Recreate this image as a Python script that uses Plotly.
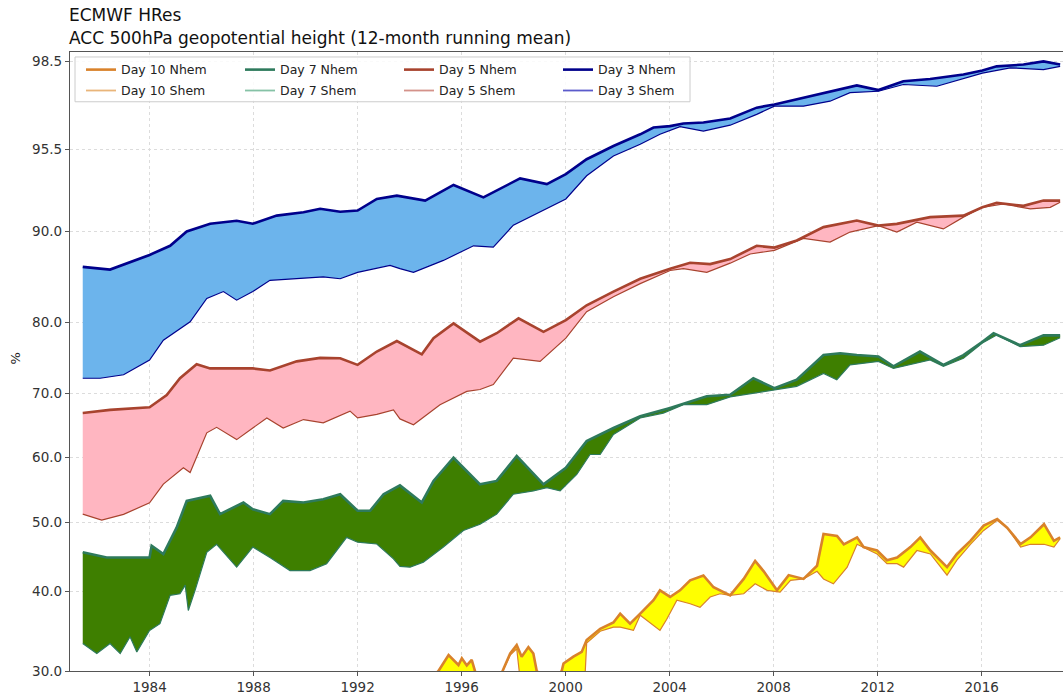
import numpy as np
import plotly.graph_objects as go

# ---------------- data ----------------
d3_nhem_year = [1981.43, 1982.48, 1984.0, 1984.79, 1985.43, 1986.33, 1987.35, 1987.97, 1988.89, 1989.92,
                1990.56, 1991.33, 1992.0, 1992.74, 1993.51, 1994.6, 1995.69, 1996.84, 1998.25, 1999.28,
                2000.01, 2000.81, 2001.84, 2002.87, 2003.38, 2004.02, 2004.53, 2005.3, 2006.33, 2007.35,
                2008.03, 2008.89, 2009.92, 2011.2, 2012.03, 2012.99, 2014.02, 2015.3, 2016.03, 2016.58,
                2017.61, 2018.38, 2019.02]
d3_nhem_val = [86.1, 85.8, 87.4, 88.4, 89.96, 90.5, 90.7, 90.5, 91.04, 91.27,
               91.5, 91.3, 91.38, 92.16, 92.38, 92.05, 93.1, 92.27, 93.54, 93.16,
               93.83, 94.83, 95.61, 96.01, 96.24, 96.29, 96.38, 96.41, 96.55, 96.92,
               97.03, 97.2, 97.43, 97.68, 97.52, 97.82, 97.9, 98.05, 98.19, 98.33,
               98.39, 98.5, 98.39]

d3_shem_year = [1981.43, 1982.1, 1983.0, 1984.0, 1984.53, 1985.17, 1985.56, 1986.2, 1986.84, 1987.35,
                1987.97, 1988.63, 1989.66, 1990.68, 1991.33, 1992.0, 1993.25, 1993.63, 1994.15, 1995.3,
                1996.46, 1997.22, 1997.99, 1999.02, 2000.01, 2000.81, 2001.84, 2002.87, 2003.63, 2004.4,
                2005.3, 2006.33, 2007.35, 2008.03, 2009.15, 2010.17, 2010.94, 2012.03, 2012.99, 2014.28,
                2015.3, 2016.03, 2017.1, 2018.38, 2019.02]
d3_shem_val = [72.1, 72.1, 72.6, 74.7, 77.5, 79.2, 80.1, 82.64, 83.4, 82.46,
               83.4, 84.63, 84.8, 85.0, 84.8, 85.5, 86.26, 85.9, 85.5, 86.8,
               88.4, 88.26, 90.4, 91.27, 92.16, 93.72, 95.05, 95.67, 96.01, 96.27,
               96.12, 96.32, 96.69, 96.97, 96.97, 97.14, 97.43, 97.48, 97.71, 97.65,
               97.9, 98.1, 98.28, 98.22, 98.33]

d5_nhem_year = [1981.43, 1982.48, 1984.0, 1984.66, 1985.17, 1985.81, 1986.33, 1987.35, 1987.97, 1988.63,
                1989.66, 1990.56, 1991.33, 1992.0, 1992.74, 1993.51, 1994.47, 1994.92, 1995.69, 1996.71,
                1997.35, 1998.19, 1999.15, 2000.01, 2000.81, 2001.84, 2002.87, 2004.02, 2004.79, 2005.56,
                2006.33, 2007.35, 2008.03, 2008.89, 2009.92, 2011.2, 2012.03, 2012.74, 2014.02, 2015.3,
                2016.03, 2016.58, 2017.61, 2018.38, 2019.02]
d5_nhem_val = [66.92, 67.4, 67.8, 69.7, 72.1, 74.1, 73.5, 73.5, 73.5, 73.2,
               74.5, 75.0, 74.95, 74.0, 75.9, 77.4, 75.5, 77.8, 79.9, 77.3,
               78.5, 80.47, 78.7, 80.28, 81.9, 83.4, 84.8, 85.9, 86.55, 86.4,
               86.95, 88.4, 88.2, 88.98, 90.27, 90.71, 90.37, 90.49, 90.94, 91.04,
               91.6, 91.9, 91.7, 92.05, 92.05]

d5_shem_year = [1981.43, 1982.16, 1983.0, 1984.0, 1984.53, 1985.3, 1985.56, 1986.2, 1986.58, 1987.35,
                1987.97, 1988.51, 1989.14, 1989.92, 1990.68, 1991.71, 1992.0, 1992.74, 1993.38, 1993.63,
                1994.15, 1995.17, 1996.2, 1996.71, 1997.22, 1997.99, 1999.02, 2000.01, 2000.81, 2001.84,
                2002.87, 2004.02, 2004.53, 2005.43, 2006.33, 2007.1, 2008.03, 2009.15, 2010.17, 2010.94,
                2012.03, 2012.74, 2013.51, 2014.53, 2015.3, 2016.03, 2016.84, 2017.87, 2018.64, 2019.02]
d5_shem_val = [51.24, 50.3, 51.2, 53.0, 55.9, 58.45, 57.7, 63.85, 64.7, 62.8,
               64.6, 66.15, 64.6, 65.9, 65.4, 67.2, 66.15, 66.7, 67.4, 66.0,
               65.1, 68.2, 70.24, 70.5, 71.2, 74.95, 74.5, 77.8, 81.2, 82.83,
               84.27, 85.7, 85.9, 85.5, 86.5, 87.5, 87.9, 89.2, 88.8, 89.9,
               90.37, 89.9, 90.6, 90.15, 90.94, 91.6, 91.82, 91.49, 91.6, 91.94]

d7_nhem_year = [1981.43, 1982.35, 1983.12, 1984.0, 1984.08, 1984.53, 1985.04, 1985.43, 1986.33, 1986.71,
                1987.61, 1987.97, 1988.63, 1989.14, 1989.92, 1990.68, 1991.33, 1992.0, 1992.48, 1993.0,
                1993.63, 1994.47, 1994.92, 1995.69, 1996.71, 1997.35, 1998.12, 1999.15, 2000.01, 2000.81,
                2001.84, 2002.87, 2004.02, 2004.79, 2005.43, 2006.33, 2007.22, 2008.03, 2008.89, 2009.92,
                2010.56, 2011.2, 2012.03, 2012.61, 2013.63, 2014.53, 2015.3, 2016.03, 2016.46, 2017.48,
                2018.38, 2019.02]
d7_nhem_val = [45.65, 44.9, 44.9, 44.9, 46.6, 45.4, 49.2, 53.3, 54.08, 51.24,
               53.05, 52.0, 51.24, 53.3, 53.05, 53.55, 54.33, 51.76, 51.76, 54.33,
               55.7, 53.05, 56.4, 60.0, 55.87, 56.4, 60.26, 55.87, 58.45, 62.57,
               64.6, 66.4, 67.7, 68.7, 69.5, 69.74, 72.1, 70.7, 71.9, 75.4,
               75.66, 75.4, 75.2, 73.8, 75.9, 74.0, 75.4, 77.3, 78.5, 76.8,
               78.2, 78.2]

d7_shem_year = [1981.43, 1981.97, 1982.48, 1982.87, 1983.25, 1983.51, 1984.0, 1984.4, 1984.79, 1985.17,
                1985.37, 1985.49, 1985.75, 1986.2, 1986.58, 1987.35, 1987.97, 1988.63, 1989.4, 1990.17,
                1990.81, 1991.58, 1992.0, 1992.74, 1993.38, 1993.63, 1994.02, 1994.53, 1995.3, 1996.07,
                1996.71, 1997.35, 1997.99, 1998.76, 1999.28, 1999.79, 2000.43, 2000.94, 2001.33, 2001.84,
                2002.87, 2003.76, 2004.53, 2005.43, 2006.33, 2007.22, 2008.03, 2008.89, 2009.92, 2010.43,
                2010.94, 2012.03, 2012.61, 2014.02, 2014.53, 2015.3, 2016.03, 2016.58, 2017.48, 2018.38,
                2019.02]
d7_shem_val = [33.45, 32.2, 33.45, 32.2, 34.3, 32.4, 35.1, 35.95, 39.5, 39.7,
               40.9, 37.6, 40.15, 45.65, 46.8, 43.5, 46.4, 44.9, 43.0, 43.0,
               44.0, 47.8, 47.1, 46.84, 44.7, 43.6, 43.5, 44.2, 46.4, 48.8,
               49.7, 51.24, 54.33, 54.85, 55.35, 54.85, 57.4, 60.5, 60.5, 63.6,
               66.15, 66.9, 68.2, 68.2, 69.4, 70.0, 70.5, 70.95, 72.8, 71.9,
               74.0, 74.5, 73.5, 74.7, 73.8, 74.95, 77.1, 78.25, 76.6, 76.8,
               77.85]

d10_nhem_year = [1994.95, 1995.11, 1995.5, 1995.88, 1996.01, 1996.2, 1996.39, 1996.56, 1997.0, 1997.55,
                 1997.87, 1998.12, 1998.31, 1998.57, 1998.76, 1998.89, 1999.4, 1999.85, 1999.92, 2000.3,
                 2000.62, 2000.81, 2001.33, 2001.84, 2002.1, 2002.48, 2002.87, 2003.38, 2003.63, 2004.02,
                 2004.4, 2004.79, 2005.3, 2005.69, 2006.33, 2006.85, 2007.29, 2007.62, 2008.13, 2008.58,
                 2009.15, 2009.67, 2009.92, 2010.44, 2010.7, 2011.21, 2011.46, 2011.98, 2012.36, 2012.75,
                 2013.26, 2013.64, 2014.03, 2014.67, 2015.05, 2015.57, 2016.08, 2016.6, 2016.98, 2017.5,
                 2017.88, 2018.4, 2018.78, 2019.02]
d10_nhem_val = [29.5, 30.0, 32.0, 30.75, 31.6, 30.7, 31.4, 29.5, 28.5, 29.8,
                32.2, 33.25, 31.8, 33.0, 32.2, 30.0, 28.5, 30.0, 30.95, 31.8,
                32.4, 33.9, 35.3, 36.1, 37.2, 35.95, 37.2, 38.9, 40.15, 39.3,
                40.15, 41.6, 42.3, 40.6, 39.5, 41.8, 44.4, 42.9, 40.15, 42.35,
                41.8, 43.7, 48.3, 48.0, 46.8, 47.8, 46.4, 45.9, 44.5, 44.9,
                46.4, 47.8, 45.9, 43.5, 45.4, 47.3, 49.5, 50.46, 49.2, 46.84,
                47.8, 49.7, 47.3, 47.8]

d10_shem_year = [1994.95, 1995.5, 1996.5, 1997.2, 1997.55, 1997.87, 1998.12, 1998.25, 1998.6, 1998.89,
                 1999.5, 2000.3, 2000.75, 2000.81, 2001.33, 2001.84, 2002.1, 2002.61, 2002.87, 2003.12,
                 2003.63, 2003.89, 2004.28, 2004.79, 2005.17, 2005.56, 2005.94, 2006.33, 2006.85, 2007.29,
                 2007.75, 2008.25, 2008.65, 2009.15, 2009.67, 2009.92, 2010.3, 2010.83, 2011.21, 2011.7,
                 2011.98, 2012.36, 2012.75, 2013.0, 2013.51, 2014.03, 2014.67, 2015.05, 2015.57, 2016.08,
                 2016.6, 2016.98, 2017.5, 2017.88, 2018.4, 2018.78, 2019.02]
d10_shem_val = [27.0, 27.5, 28.0, 28.5, 29.8, 32.0, 32.8, 29.0, 28.5, 28.5,
                28.0, 28.5, 29.5, 33.5, 35.0, 35.5, 35.5, 35.1, 37.0, 36.4,
                35.1, 36.5, 38.9, 38.45, 38.0, 39.3, 39.7, 39.5, 39.7, 41.1,
                40.15, 39.9, 41.6, 41.8, 42.9, 41.8, 41.1, 43.5, 46.8, 45.9,
                45.4, 44.0, 44.0, 43.5, 45.9, 45.4, 42.35, 44.5, 46.8, 48.8,
                50.3, 49.2, 46.4, 46.8, 46.8, 46.4, 47.6]

y_tick_vals = [30, 40, 50, 60, 70, 80, 90, 95.5, 98.5]
y_tick_text = ["30.0", "40.0", "50.0", "60.0", "70.0", "80.0", "90.0", "95.5", "98.5"]
x_tick_vals = [1984, 1988, 1992, 1996, 2000, 2004, 2008, 2012, 2016]

# ---------------- custom (stretched) y scale ----------------
SCALE_VALS = [20, 30, 40, 50, 60, 70, 80, 90, 95.5, 98.5, 100]
SCALE_POS = [-80, 0, 80, 149.6, 214.3, 279.3, 350, 442, 524.3, 612.6, 656.7]


def yscale(v):
    return np.interp(np.asarray(v, dtype=float), SCALE_VALS, SCALE_POS)


W, H = 1063, 695
ML, MR, MT, MB = 70, 0, 52, 21
PW, PH = W - ML - MR, H - MT - MB

fig = go.Figure()

groups = [
    # name, nhem (x,y), shem (x,y), nhem color, shem color, fill color
    ("Day 10", d10_nhem_year, d10_nhem_val, d10_shem_year, d10_shem_val, "#D9822B", "#E9B57A", "#FFFF00"),
    ("Day 7", d7_nhem_year, d7_nhem_val, d7_shem_year, d7_shem_val, "#2E7A5C", "#86C2A6", "#3E7F00"),
    ("Day 5", d5_nhem_year, d5_nhem_val, d5_shem_year, d5_shem_val, "#A8432E", "#D4928A", "#FFB6C1"),
    ("Day 3", d3_nhem_year, d3_nhem_val, d3_shem_year, d3_shem_val, "#00008B", "#5B5BCB", "#6CB4EC"),
]

for i, (name, nx, ny, sx, sy, cn, cs, cf) in enumerate(groups):
    fig.add_trace(go.Scatter(
        x=sx, y=yscale(sy), mode="lines", name=f"{name} Shem",
        line=dict(color=cn, width=1.2), showlegend=False, hoverinfo="skip"))
    fig.add_trace(go.Scatter(
        x=nx, y=yscale(ny), mode="lines", name=f"{name} Nhem",
        line=dict(color=cn, width=2.6), fill="tonexty", fillcolor=cf,
        showlegend=False, hoverinfo="skip"))

# legend-only entries (so the legend shows the lighter Shem colours)
for i, (name, nx, ny, sx, sy, cn, cs, cf) in enumerate(groups):
    fig.add_trace(go.Scatter(x=[None], y=[None], mode="lines", name=f"{name} Nhem",
                             line=dict(color=cn, width=2.6), legend="legend", legendrank=i))
    fig.add_trace(go.Scatter(x=[None], y=[None], mode="lines", name=f"{name} Shem",
                             line=dict(color=cs, width=1.8), legend="legend2", legendrank=i))


def px_to_paper_x(px):
    return (px - ML) / PW


def px_to_paper_y(py):
    return 1 - (py - MT) / PH


legend_common = dict(orientation="h", xanchor="left", yanchor="top",
                     bgcolor="rgba(0,0,0,0)", borderwidth=0,
                     font=dict(family="DejaVu Sans", size=12.5, color="#222"),
                     entrywidth=114, entrywidthmode="pixels", itemwidth=30,
                     traceorder="normal")

fig.update_layout(
    width=W, height=H,
    margin=dict(l=ML, r=MR, t=MT, b=MB, pad=0),
    paper_bgcolor="white", plot_bgcolor="white",
    font=dict(family="DejaVu Sans", size=13, color="#222"),
    showlegend=True,
    legend=dict(x=px_to_paper_x(81), y=px_to_paper_y(55), **legend_common),
    legend2=dict(x=px_to_paper_x(81), y=px_to_paper_y(76), **legend_common),
    xaxis=dict(range=[1980.94, 2019.13], tickmode="array", tickvals=x_tick_vals,
               ticktext=[str(v) for v in x_tick_vals],
               showgrid=True, gridcolor="#dcdcdc", griddash="dot", gridwidth=1,
               showline=True, linecolor="#555", linewidth=1.3, mirror=True,
               ticks="outside", ticklen=4, tickcolor="#555", zeroline=False,
               tickfont=dict(size=13.5, color="#333")),
    yaxis=dict(range=[0, PH], tickmode="array", tickvals=list(yscale(y_tick_vals)),
               ticktext=y_tick_text,
               showgrid=True, gridcolor="#dcdcdc", griddash="dot", gridwidth=1,
               showline=True, linecolor="#555", linewidth=1.3,
               ticks="outside", ticklen=4, tickcolor="#555", zeroline=False,
               tickfont=dict(size=13.5, color="#333")),
    shapes=[dict(type="rect", xref="paper", yref="paper",
                 x0=px_to_paper_x(75), x1=px_to_paper_x(690),
                 y0=px_to_paper_y(102), y1=px_to_paper_y(57),
                 line=dict(color="#cccccc", width=1), fillcolor="rgba(255,255,255,0.85)",
                 layer="above")],
    annotations=[
        dict(text="ECMWF HRes", xref="paper", yref="paper", x=px_to_paper_x(67),
             y=px_to_paper_y(15), xanchor="left", yanchor="middle", showarrow=False,
             font=dict(size=17, color="#111")),
        dict(text="ACC 500hPa geopotential height (12-month running mean)", xref="paper",
             yref="paper", x=px_to_paper_x(67), y=px_to_paper_y(38), xanchor="left",
             yanchor="middle", showarrow=False, font=dict(size=17, color="#111")),
        dict(text="%", xref="paper", yref="paper", x=px_to_paper_x(16),
             y=px_to_paper_y(360), xanchor="center", yanchor="middle", showarrow=False,
             textangle=-90, font=dict(size=13, color="#222")),
    ],
)

fig.write_html("out.html", config={"displayModeBar": False},
               post_script="document.body.style.margin='0';")
